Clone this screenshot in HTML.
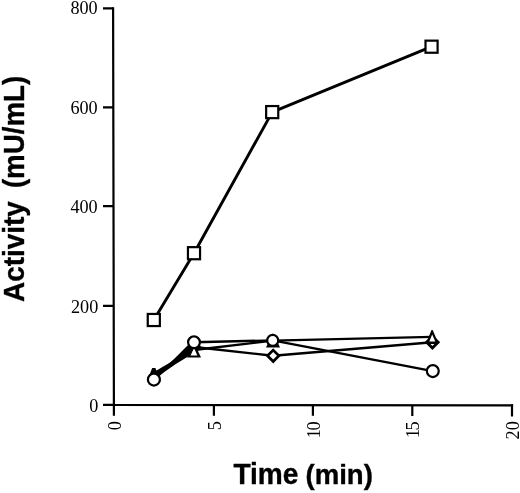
<!DOCTYPE html>
<html>
<head>
<meta charset="utf-8">
<title>Activity vs Time</title>
<style>
html,body{margin:0;padding:0;background:#fff;}
body{width:520px;height:493px;overflow:hidden;}
svg{display:block;}
.tick{font-family:"Liberation Serif",serif;font-size:18.2px;fill:#000;}
.lab{font-family:"Liberation Sans",sans-serif;font-weight:bold;font-size:27.5px;fill:#000;}
</style>
</head>
<body>
<svg width="520" height="493" viewBox="0 0 520 493">
<rect width="520" height="493" fill="#fff"/>
<!-- axes -->
<g stroke="#000" stroke-width="2.2" fill="none" stroke-linecap="butt">
<path d="M113.1 7.2 L113.9 404.9 L513.1 405.3"/>
<path d="M103 8.3 H113.2 M103 107.3 H113.4 M103 206.2 H113.6 M103 305.8 H113.8 M103 404.9 H113.9"/>
<path d="M113.9 404.9 V415.8 M213.9 404.9 V415.8 M312.9 404.9 V415.8 M412.3 404.9 V416 M512 404.2 V416.6"/>
</g>
<!-- y tick labels -->
<g class="tick" text-anchor="end">
<text x="97.7" y="14.3">800</text>
<text x="97.7" y="114">600</text>
<text x="97.7" y="213.1">400</text>
<text x="98.3" y="312.8">200</text>
<text x="98.3" y="411.8">0</text>
</g>
<!-- x tick labels -->
<g class="tick" text-anchor="end">
<text transform="translate(120.9 421.2) rotate(-90)">0</text>
<text transform="translate(220.9 421.2) rotate(-90)">5</text>
<text transform="translate(319.7 421.4) rotate(-90)">1<tspan dx="-1.4">0</tspan></text>
<text transform="translate(419.2 421.4) rotate(-90)">1<tspan dx="-1.6">5</tspan></text>
<text transform="translate(518.9 421.2) rotate(-90)">20</text>
</g>
<!-- axis titles -->
<g stroke="#000" stroke-width="0.35" stroke-linejoin="round">
<text class="lab" transform="translate(23.7 302) rotate(-90) scale(1 1.08)"><tspan x="0" font-size="27.9">Activity </tspan><tspan x="113.9" font-size="27.7">(mU/mL)</tspan></text>
<text class="lab" transform="translate(0 484.2) scale(1 1.02)"><tspan x="233.4" font-size="28.1">Time </tspan><tspan x="305.5" font-size="27.6">(min)</tspan></text>
</g>
<!-- series lines -->
<g stroke="#000" fill="none" stroke-linejoin="round">
<polyline stroke-width="2.9" points="153.8,320.0 194.0,253.2 272.2,112.1 431.55,46.7"/>
<polyline stroke-width="2.4" points="153.8,375.5 194.0,347.0 273.2,355.8 432.4,342.3"/>
<polyline stroke-width="2.4" points="153.8,374.8 194.0,350.0 273.0,340.6 432.1,336.9"/>
<polyline stroke-width="2.4" points="153.9,379.6 194.0,342.3 272.7,340.4 432.8,371.1"/>
</g>
<polygon fill="#000" stroke="none" points="153.9,372.5 156.6,370.4 163.2,366.6 170.3,362.8 176.4,356.7 185.5,347.6 194,340 194,350 187.3,356.9 175.4,364.3 160.1,375 153.9,380"/>
<!-- markers -->
<g stroke="#000" stroke-width="2.2" fill="#fff">
<!-- diamonds -->
<g stroke-width="2.7">
<path d="M194.00 341.50 L199.50 347.00 L194.00 352.50 L188.50 347.00 Z"/>
<path d="M273.20 350.10 L278.90 355.80 L273.20 361.50 L267.50 355.80 Z"/>
<path stroke-width="2.9" d="M432.40 336.60 L438.10 342.30 L432.40 348.00 L426.70 342.30 Z"/>
</g>
<!-- triangles -->
<path d="M152.20 368.00 L155.40 368.00 L160.80 381.60 L146.80 381.60 Z" fill="#000" stroke="none"/>
<path d="M193.40 343.80 L194.60 343.80 L201.00 357.40 L187.00 357.40 Z" fill="#000" stroke="none"/><path d="M194.00 347.90 L197.40 355.50 L190.60 355.50 Z" fill="#fff" stroke="none"/>
<path d="M272.40 333.80 L273.60 333.80 L280.00 347.40 L266.00 347.40 Z" fill="#000" stroke="none"/><path d="M273.00 337.90 L276.40 345.50 L269.60 345.50 Z" fill="#fff" stroke="none"/>
<path d="M431.50 330.00 L432.70 330.00 L438.60 343.90 L425.80 343.90 Z" fill="#000" stroke="none"/><path d="M432.20 334.60 L435.30 341.60 L429.30 341.60 Z" fill="#fff" stroke="none"/>
<!-- circles -->
<circle cx="153.9" cy="379.6" r="6.0"/>
<circle cx="194.0" cy="342.3" r="5.9"/>
<circle cx="272.7" cy="340.4" r="5.5"/>
<circle cx="432.8" cy="371.1" r="5.95"/>
<!-- squares -->
<rect x="147.75" y="313.95" width="12.1" height="12.1"/>
<rect x="187.95" y="247.15" width="12.1" height="12.1"/>
<rect x="266.15" y="106.05" width="12.1" height="12.1"/>
<rect x="425.50" y="40.65" width="12.1" height="12.1"/>
</g>
</svg>
</body>
</html>
